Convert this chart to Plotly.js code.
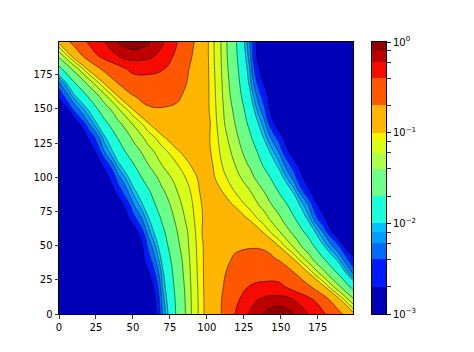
<!DOCTYPE html>
<html><head><meta charset="utf-8">
<script src="https://cdn.plot.ly/plotly-3.0.1.min.js"></script>
<style>html,body{margin:0;padding:0;background:#fff}#chart{width:474px;height:352px}</style>
</head><body><div id="chart"></div>
<script>
// grid coordinates (x and y)
const gridX = [0,10,20,30,40,50,60,70,80,90,99.5,109,119,129,139,149,159,169,179,189,199];
const gridY = [0,10,20,30,40,50,60,70,80,90,99.5,109,119,129,139,149,159,169,179,189,199];
// contour levels (colorbar boundaries)
const levels = [0.001,0.002,0.004,0.006,0.008,0.01,0.02,0.04,0.06,0.08,0.1,0.2,0.4,0.6,0.8,1.0];
// band colours (jet, log-normalised)
const bandColors = ['rgb(0,0,185)','rgb(0,26,255)','rgb(0,107,255)','rgb(0,158,255)','rgb(0,196,255)',
  'rgb(27,255,220)','rgb(109,255,137)','rgb(175,255,72)','rgb(216,255,26)','rgb(248,245,0)',
  'rgb(255,182,0)','rgb(255,88,0)','rgb(247,12,0)','rgb(189,0,0)','rgb(146,0,0)'];
const axisTicks = [0,25,50,75,100,125,150,175];
const cbMajor = [0.001,0.01,0.1,1];
const cbLabels = ['10<sup>\u22123</sup>','10<sup>\u22122</sup>','10<sup>\u22121</sup>','10<sup>0</sup>'];
// z values, rows from y=0 (bottom) to y=199 (top)
const row00 = [0.0005,0.0005,0.0005,0.0005,0.0005,0.0005,0.0005,0.0061,0.023,0.063,0.109,0.19,0.402,0.622,0.832,0.95,0.802,0.584,0.424,0.246,0.11];
const row01 = [0.0005,0.0005,0.0005,0.0005,0.0005,0.0005,0.0005,0.007,0.024,0.0636,0.109,0.189,0.356,0.542,0.66,0.70,0.606,0.476,0.288,0.119,0.0466];
const row02 = [0.0005,0.0005,0.0005,0.0005,0.0005,0.0005,0.0009,0.0081,0.026,0.0648,0.11,0.181,0.29,0.41,0.45,0.45,0.334,0.22,0.106,0.045,0.0157];
const row03 = [0.0005,0.0005,0.0005,0.0005,0.0005,0.0005,0.00175,0.0092,0.0286,0.0666,0.11,0.171,0.26,0.31,0.33,0.31,0.204,0.099,0.0472,0.0183,0.0055];
const row04 = [0.0005,0.0005,0.0005,0.0005,0.0005,0.0005,0.003,0.0114,0.0314,0.0682,0.11,0.16,0.216,0.24,0.244,0.19,0.099,0.05,0.021,0.0086,0.0026];
const row05 = [0.0005,0.0005,0.0005,0.0005,0.0005,0.0005,0.0044,0.0143,0.036,0.07,0.11,0.145,0.18,0.19,0.18,0.096,0.0554,0.0276,0.0101,0.0041,0.0005];
const row06 = [0.0005,0.0005,0.0005,0.0005,0.0005,0.0011,0.0068,0.0175,0.0401,0.0716,0.115,0.145,0.155,0.14,0.094,0.0614,0.0352,0.015,0.0057,0.00097,0.0005];
const row07 = [0.0005,0.0005,0.0005,0.0005,0.0005,0.0032,0.0093,0.0224,0.0472,0.0758,0.11,0.135,0.13,0.0942,0.0682,0.0438,0.021,0.0087,0.0023,0.0005,0.0005];
const row08 = [0.0005,0.0005,0.0005,0.0005,0.0011,0.0057,0.0133,0.0294,0.0538,0.0788,0.112,0.125,0.0956,0.0736,0.0522,0.03,0.0139,0.0057,0.00093,0.0005,0.0005];
const row09 = [0.0005,0.0005,0.0005,0.0005,0.003,0.0087,0.018,0.0378,0.0602,0.0834,0.118,0.103,0.079,0.061,0.0388,0.0185,0.009,0.0023,0.0005,0.0005,0.0005];
const row10 = [0.0005,0.0005,0.0005,0.0011,0.0051,0.013,0.0266,0.0488,0.069,0.09,0.12,0.09,0.069,0.0488,0.0266,0.013,0.0051,0.0011,0.0005,0.0005,0.0005];
const row11 = [0.0005,0.0005,0.0005,0.0023,0.009,0.0185,0.0388,0.061,0.079,0.103,0.118,0.0834,0.0602,0.0378,0.018,0.0087,0.003,0.0005,0.0005,0.0005,0.0005];
const row12 = [0.0005,0.0005,0.00093,0.0057,0.0139,0.03,0.0522,0.0736,0.0956,0.125,0.112,0.0788,0.0538,0.0294,0.0133,0.0057,0.0011,0.0005,0.0005,0.0005,0.0005];
const row13 = [0.0005,0.0005,0.0023,0.0087,0.021,0.0438,0.0682,0.0942,0.13,0.135,0.11,0.0758,0.0472,0.0224,0.0093,0.0032,0.0005,0.0005,0.0005,0.0005,0.0005];
const row14 = [0.0005,0.00097,0.0057,0.015,0.0352,0.0614,0.094,0.14,0.155,0.145,0.115,0.0716,0.0401,0.0175,0.0068,0.0011,0.0005,0.0005,0.0005,0.0005,0.0005];
const row15 = [0.0005,0.0041,0.0101,0.0276,0.0554,0.096,0.18,0.19,0.18,0.145,0.11,0.07,0.036,0.0143,0.0044,0.0005,0.0005,0.0005,0.0005,0.0005,0.0005];
const row16 = [0.0026,0.0086,0.021,0.05,0.099,0.19,0.244,0.24,0.216,0.16,0.11,0.0682,0.0314,0.0114,0.003,0.0005,0.0005,0.0005,0.0005,0.0005,0.0005];
const row17 = [0.0055,0.0183,0.0472,0.099,0.204,0.31,0.33,0.31,0.26,0.171,0.11,0.0666,0.0286,0.0092,0.00175,0.0005,0.0005,0.0005,0.0005,0.0005,0.0005];
const row18 = [0.0157,0.045,0.106,0.22,0.334,0.45,0.45,0.41,0.29,0.181,0.11,0.0648,0.026,0.0081,0.0009,0.0005,0.0005,0.0005,0.0005,0.0005,0.0005];
const row19 = [0.0466,0.119,0.288,0.476,0.606,0.70,0.66,0.542,0.356,0.2,0.109,0.0636,0.024,0.007,0.0005,0.0005,0.0005,0.0005,0.0005,0.0005,0.0005];
const row20 = [0.11,0.246,0.424,0.584,0.802,0.95,0.832,0.622,0.402,0.22,0.109,0.063,0.023,0.0061,0.0005,0.0005,0.0005,0.0005,0.0005,0.0005,0.0005];
const zValues = [row00,row01,row02,row03,row04,row05,row06,row07,row08,row09,row10,
                 row11,row12,row13,row14,row15,row16,row17,row18,row19,row20];

// contour in log10 space (the colour scale is logarithmic)
const logGrid = zValues.map(r => r.map(v => Math.log10(v)));
const step = 0.01, lo = -3, hi = 0;
const nFine = Math.round((hi - lo) / step) + 1;
const pOf = v => Math.min(1, Math.max(0, (v - (lo - step / 2)) / (nFine * step)));
const bounds = levels.map(v => Math.round(Math.log10(v) / step) * step);
const colorscale = [];
bandColors.forEach((c, k) => {
  const a = k === 0 ? lo - step / 2 : bounds[k];
  const b = k === bandColors.length - 1 ? hi + step / 2 : bounds[k + 1];
  colorscale.push([pOf(a), c]);
  colorscale.push([pOf(b), c]);
});
colorscale[0][0] = 0; colorscale[colorscale.length - 1][0] = 1;

const smooth = 1.3;
const traces = [{
  type: 'contour', x: gridX, y: gridY, z: logGrid,
  autocontour: false,
  contours: {start: lo, end: hi, size: step, coloring: 'fill', showlines: false},
  line: {width: 0, smoothing: smooth},
  colorscale: colorscale, showscale: false, hoverinfo: 'skip',
  xaxis: 'x', yaxis: 'y'
}];
levels.slice(1, -1).forEach(lv => {
  const L = Math.log10(lv);
  traces.push({
    type: 'contour', x: gridX, y: gridY, z: logGrid,
    autocontour: false,
    contours: {start: L, end: L + 0.001, size: 1, coloring: 'none', showlines: true},
    line: {color: 'rgba(0,0,0,0.85)', width: 0.6, smoothing: smooth},
    showscale: false, hoverinfo: 'skip', xaxis: 'x', yaxis: 'y'
  });
});
traces.push({
  type: 'bar', x: bandColors.map(() => 0.5),
  y: levels.slice(1).map((v, k) => v - levels[k]),
  base: levels.slice(0, -1),
  width: 1,
  marker: {color: bandColors, line: {width: 0}},
  xaxis: 'x2', yaxis: 'y2', hoverinfo: 'skip', showlegend: false
});

const font = {family: 'DejaVu Sans, sans-serif', size: 10, color: '#000'};
const layout = {
  width: 474, height: 352,
  margin: {l: 59, r: 60, t: 42, b: 38, pad: 0},
  paper_bgcolor: '#fff', plot_bgcolor: '#fff',
  font: font, showlegend: false, barmode: 'overlay', bargap: 0,
  xaxis: {domain: [0, 0.829], range: [0, 199], tickvals: axisTicks, ticks: 'outside', ticklen: 3.5,
    tickwidth: 0.8, tickcolor: '#000', showline: true, mirror: true, linecolor: '#000', linewidth: 1,
    showgrid: false, zeroline: false, tickfont: font},
  yaxis: {domain: [0, 1], range: [0, 199], tickvals: axisTicks, ticks: 'outside', ticklen: 3.5,
    tickwidth: 0.8, tickcolor: '#000', showline: true, mirror: true, linecolor: '#000', linewidth: 1,
    showgrid: false, zeroline: false, tickfont: font},
  xaxis2: {domain: [0.881, 0.9225], range: [0, 1], anchor: 'y2', showticklabels: false, ticks: '',
    showline: true, mirror: true, linecolor: '#000', linewidth: 1, showgrid: false, zeroline: false},
  yaxis2: {domain: [0, 1], type: 'log', range: [-3, 0], anchor: 'x2', side: 'right',
    tickmode: 'array', tickvals: cbMajor, ticktext: cbLabels, ticks: 'outside', ticklen: 3.5, tickwidth: 0.8,
    tickcolor: '#000', showline: true, mirror: true, linecolor: '#000', linewidth: 1, showgrid: false,
    zeroline: false, tickfont: font,
    minor: {tickmode: 'array', tickvals: levels, ticks: 'outside', ticklen: 3.5, tickwidth: 0.8, tickcolor: '#000', showgrid: false}}
};
Plotly.newPlot('chart', traces, layout, {staticPlot: true, displayModeBar: false});
</script>
</body></html>
